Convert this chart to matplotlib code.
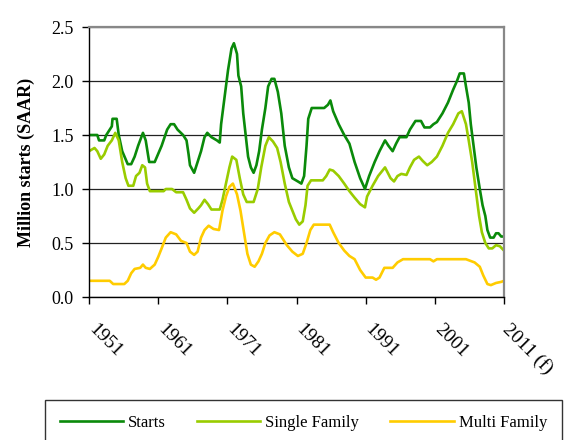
import matplotlib
matplotlib.use('Agg')
import matplotlib.pyplot as plt
from matplotlib.transforms import ScaledTranslation

# values (million starts, SAAR)
starts_years = [1951.0, 1952.2, 1952.45, 1953.2, 1953.5, 1954.3, 1954.4, 1955.0, 1955.3, 1955.8,
                1956.6, 1957.1, 1957.6, 1958.1, 1958.8, 1959.2, 1959.7, 1960.5, 1961.5, 1962.3,
                1962.8, 1963.3, 1963.8, 1964.6, 1965.1, 1965.4, 1965.6, 1966.2, 1966.7, 1967.2,
                1967.7, 1968.1, 1968.7, 1969.5, 1969.9, 1970.1, 1970.6, 1971.1, 1971.6, 1971.95,
                1972.4, 1972.6, 1973.0, 1973.3, 1973.65, 1974.0, 1974.4, 1974.8, 1975.2, 1975.6,
                1976.0, 1976.5, 1976.9, 1977.4, 1977.8, 1978.3, 1978.8, 1979.3, 1979.9, 1980.4,
                1981.2, 1981.7, 1982.1, 1982.45, 1982.7, 1983.2, 1985.0, 1985.55, 1985.9, 1986.3,
                1987.1, 1987.9, 1988.65, 1989.4, 1990.2, 1990.9, 1991.5, 1992.3, 1993.0, 1993.8,
                1994.3, 1994.9, 1995.4, 1995.9, 1996.9, 1997.4, 1998.2, 1999.0, 1999.5, 2000.3,
                2000.8, 2001.3, 2002.1, 2002.9, 2003.65, 2004.2, 2004.6, 2005.2, 2005.5, 2005.9,
                2006.2, 2006.6, 2007.0, 2007.5, 2007.9, 2008.3, 2008.6, 2009.0, 2009.5, 2009.85,
                2010.2, 2010.6, 2011.0]
starts = [1.50, 1.50, 1.45, 1.45, 1.50, 1.58, 1.65, 1.65, 1.50, 1.35,
          1.23, 1.23, 1.30, 1.40, 1.52, 1.45, 1.25, 1.25, 1.40, 1.55,
          1.60, 1.60, 1.55, 1.50, 1.45, 1.32, 1.22, 1.15, 1.25, 1.35,
          1.48, 1.52, 1.48, 1.45, 1.43, 1.60, 1.85, 2.10, 2.30, 2.35,
          2.25, 2.05, 1.95, 1.70, 1.50, 1.30, 1.20, 1.15, 1.22, 1.35,
          1.55, 1.75, 1.95, 2.02, 2.02, 1.90, 1.70, 1.40, 1.20, 1.10,
          1.07, 1.05, 1.12, 1.40, 1.65, 1.75, 1.75, 1.78, 1.82, 1.72,
          1.60, 1.50, 1.42, 1.25, 1.10, 1.00, 1.12, 1.25, 1.35, 1.45,
          1.40, 1.35, 1.42, 1.48, 1.48, 1.55, 1.63, 1.63, 1.57, 1.57,
          1.60, 1.62, 1.70, 1.80, 1.92, 2.00, 2.07, 2.07, 1.95, 1.80,
          1.60, 1.40, 1.20, 1.00, 0.85, 0.75, 0.62, 0.55, 0.55, 0.59,
          0.59, 0.56, 0.56]

single_years = [1951.0, 1951.8, 1952.2, 1952.7, 1953.2, 1953.7, 1954.3, 1954.8, 1955.3, 1955.8,
                1956.3, 1956.7, 1957.4, 1957.8, 1958.3, 1958.7, 1959.1, 1959.4, 1959.8, 1961.8,
                1962.1, 1963.0, 1963.6, 1964.6, 1965.1, 1965.6, 1966.2, 1966.8, 1967.2, 1967.7,
                1968.2, 1968.7, 1969.9, 1970.3, 1970.8, 1971.3, 1971.7, 1972.3, 1972.8, 1973.3,
                1973.8, 1974.8, 1975.4, 1975.9, 1976.5, 1977.0, 1977.6, 1978.2, 1978.7, 1979.3,
                1979.9, 1980.4, 1980.9, 1981.4, 1981.9, 1982.3, 1982.6, 1983.1, 1984.8, 1985.3,
                1985.8, 1986.3, 1987.1, 1987.9, 1988.65, 1989.4, 1990.2, 1990.9, 1991.2, 1992.0,
                1992.8, 1993.8, 1994.6, 1995.1, 1995.6, 1996.15, 1996.9, 1997.4, 1998.0, 1998.7,
                1999.25, 1999.9, 2000.55, 2001.3, 2002.1, 2002.9, 2003.65, 2004.4, 2004.9, 2005.5,
                2005.9, 2006.4, 2006.9, 2007.4, 2007.8, 2008.3, 2008.8, 2009.3, 2009.85, 2010.4,
                2011.0]
single = [1.35, 1.38, 1.35, 1.28, 1.32, 1.40, 1.45, 1.52, 1.45, 1.25,
          1.10, 1.03, 1.03, 1.12, 1.15, 1.22, 1.20, 1.05, 0.98, 0.98,
          1.00, 1.00, 0.97, 0.97, 0.90, 0.82, 0.78, 0.82, 0.85, 0.90,
          0.86, 0.81, 0.81, 0.90, 1.05, 1.20, 1.30, 1.27, 1.10, 0.95,
          0.88, 0.88, 1.00, 1.20, 1.40, 1.48, 1.44, 1.38, 1.25, 1.05,
          0.88, 0.80, 0.72, 0.67, 0.70, 0.85, 1.03, 1.08, 1.08, 1.12,
          1.18, 1.17, 1.12, 1.05, 0.98, 0.92, 0.86, 0.83, 0.93, 1.03,
          1.12, 1.20, 1.10, 1.07, 1.12, 1.14, 1.13, 1.20, 1.27, 1.30,
          1.26, 1.22, 1.25, 1.30, 1.40, 1.52, 1.60, 1.70, 1.72, 1.60,
          1.45, 1.25, 1.00, 0.75, 0.60, 0.50, 0.45, 0.45, 0.48, 0.47,
          0.43]

multi_years = [1951.0, 1954.0, 1954.5, 1956.1, 1956.6, 1957.1, 1957.6, 1958.4, 1958.8, 1959.2,
               1959.8, 1960.5, 1961.0, 1961.5, 1962.1, 1962.8, 1963.6, 1964.3, 1965.1, 1965.6,
               1966.2, 1966.7, 1967.2, 1967.7, 1968.3, 1969.0, 1969.8, 1970.3, 1970.8, 1971.3,
               1971.8, 1972.4, 1972.9, 1973.4, 1973.9, 1974.4, 1974.95, 1975.5, 1976.0, 1976.5,
               1977.1, 1977.8, 1978.6, 1979.1, 1979.6, 1980.4, 1981.2, 1981.9, 1982.45, 1983.0,
               1983.5, 1985.8, 1986.3, 1987.1, 1987.9, 1988.65, 1989.4, 1990.2, 1991.0, 1992.0,
               1992.5, 1993.0, 1993.7, 1994.9, 1995.6, 1996.4, 2000.3, 2000.8, 2001.3, 2005.5,
               2006.75, 2007.5, 2008.0, 2008.6, 2009.1, 2009.85, 2010.6, 2011.0]
multi = [0.15, 0.15, 0.12, 0.12, 0.15, 0.22, 0.26, 0.27, 0.30, 0.27,
         0.26, 0.30, 0.37, 0.45, 0.55, 0.60, 0.58, 0.52, 0.50, 0.42,
         0.39, 0.42, 0.55, 0.62, 0.66, 0.63, 0.62, 0.80, 0.93, 1.02,
         1.05, 0.95, 0.80, 0.60, 0.40, 0.30, 0.28, 0.33, 0.40, 0.50,
         0.57, 0.60, 0.58, 0.53, 0.48, 0.42, 0.38, 0.40, 0.50, 0.62,
         0.67, 0.67, 0.60, 0.50, 0.43, 0.38, 0.35, 0.25, 0.18, 0.18,
         0.16, 0.18, 0.27, 0.27, 0.32, 0.35, 0.35, 0.33, 0.35, 0.35,
         0.32, 0.28, 0.20, 0.12, 0.11, 0.13, 0.14, 0.15]

tick_years = [1951, 1961, 1971, 1981, 1991, 2001, 2011]
tick_labels = ['1951', '1961', '1971', '1981', '1991', '2001', '2011 (f)']

plt.rcParams['font.family'] = ['Liberation Serif', 'DejaVu Serif']

fig = plt.figure(figsize=(5.64, 4.40), dpi=100)
ax = fig.add_axes([89/564, 1 - 297/440, (504-89)/564, (297-27)/440])

ax.plot(starts_years, starts, color='#0a8a0a', lw=1.9, label='Starts')
ax.plot(single_years, single, color='#99cc00', lw=1.9, label='Single Family')
ax.plot(multi_years, multi, color='#ffcc00', lw=1.9, label='Multi Family')

ax.set_xlim(1951, 2011)
ax.set_ylim(0, 2.5)
ax.set_yticks([0, 0.5, 1.0, 1.5, 2.0, 2.5])
ax.set_yticklabels(['0.0', '0.5', '1.0', '1.5', '2.0', '2.5'], fontsize=13)
ax.set_xticks(tick_years)
ax.set_xticklabels(tick_labels, rotation=-45, ha='left', va='top',
                   rotation_mode='anchor', fontsize=14)
ax.tick_params(axis='x', direction='out', length=5, width=1, pad=12)
ax.tick_params(axis='y', direction='out', length=5, width=1, pad=6)
# nudge rotated year labels to the right, as in the original
shift = ScaledTranslation(8/100, 0, fig.dpi_scale_trans)
for lbl in ax.get_xticklabels():
    lbl.set_transform(lbl.get_transform() + shift)
ax.yaxis.grid(True, color='#222222', lw=0.9)
ax.set_axisbelow(True)

for s in ['left', 'bottom']:
    ax.spines[s].set_color('black')
    ax.spines[s].set_linewidth(1)
for s in ['top', 'right']:
    ax.spines[s].set_color('#888888')
    ax.spines[s].set_linewidth(1.6)

ax.set_ylabel('Million starts (SAAR)', fontsize=13, fontweight='bold', labelpad=12)

leg = fig.legend(loc='upper left', bbox_to_anchor=(45/564, 1 - 460/440, (562-45)/564, 60/440),
                 mode='expand', ncol=3, frameon=True, fancybox=False, fontsize=12,
                 handlelength=3.8, handletextpad=0.3, borderaxespad=0, borderpad=0.9)
leg.get_frame().set_edgecolor('black')
leg.get_frame().set_linewidth(1)

fig.savefig('out.png', dpi=100)
